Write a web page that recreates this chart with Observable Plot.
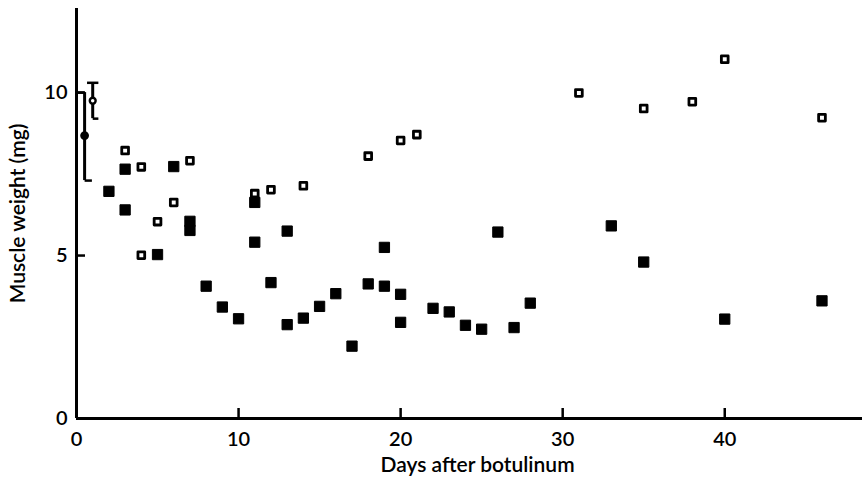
<!DOCTYPE html>
<html>
<head>
<meta charset="utf-8">
<script src="https://cdn.jsdelivr.net/npm/d3@7"></script>
<script src="https://cdn.jsdelivr.net/npm/@observablehq/plot@0.6"></script>
<style>
  html, body { margin: 0; padding: 0; background: #fff; }
  svg { display: block; }
</style>
</head>
<body>
<div id="chart"></div>
<script>
// Open squares (one series)
const openDays   = [3, 4, 4, 5, 6, 7, 11, 12, 14, 18, 20, 21, 31, 35, 38, 40, 46];
const openWeight = [8.22, 7.72, 5.01, 6.04, 6.63, 7.91, 6.9, 7.02, 7.14, 8.05, 8.53, 8.71, 9.99, 9.51, 9.72, 11.02, 9.23];

// Filled squares (other series)
const filledDays   = [2, 3, 3, 5, 6, 7, 7, 8, 9, 10, 11, 11, 12, 13, 13, 14, 15, 16, 17, 18, 19, 19, 20, 20, 22, 23, 24, 25, 26, 27, 28, 33, 35, 40, 46];
const filledWeight = [6.97, 7.65, 6.4, 5.03, 7.73, 6.05, 5.77, 4.06, 3.42, 3.06, 6.63, 5.41, 4.17, 5.75, 2.88, 3.08, 3.44, 3.83, 2.22, 4.13, 5.25, 4.06, 3.81, 2.95, 3.38, 3.27, 2.86, 2.74, 5.72, 2.79, 3.54, 5.91, 4.8, 3.05, 3.61];

// Control means with error bars (filled circle and open circle)
const controlDay  = [0.5, 1.0];
const controlMean = [8.68, 9.75];
const controlLow  = [7.3, 9.2];
const controlHigh = [10.0, 10.3];
const controlFill = ["black", "white"];

// Tick values
const xTicks = [0, 10, 20, 30, 40];
const xTickMarks = [10, 20, 30, 40];
const yTicks = [0, 5, 10];
const yTickMarks = [5, 10];

const openData = openDays.map((d, i) => ({day: d, w: openWeight[i]}));
const filledData = filledDays.map((d, i) => ({day: d, w: filledWeight[i]}));
const ctrl = controlDay.map((d, i) => ({i, day: d, mean: controlMean[i], lo: controlLow[i], hi: controlHigh[i], fill: controlFill[i]}));

const font = "Lato, 'Open Sans', sans-serif";

const chart = Plot.plot({
  width: 862,
  height: 478,
  marginLeft: 76,
  marginRight: 0,
  marginTop: 8,
  marginBottom: 60,
  style: {fontFamily: font, fontSize: "20px", color: "black", background: "white"},
  x: {domain: [0, 48.5]},
  y: {domain: [0, 12.58]},
  marks: [
    // inward tick marks
    Plot.axisX(xTickMarks, {tickSize: -10, text: null, label: null, strokeWidth: 2.5}),
    Plot.axisY(yTickMarks, {tickSize: -9, text: null, label: null, strokeWidth: 2.5}),
    // tick labels
    Plot.axisX(xTicks, {tickSize: 0, tickPadding: 13, fontSize: 20, fontWeight: 600, label: null}),
    Plot.axisY(yTicks, {tickSize: 0, tickPadding: 9, fontSize: 20, fontWeight: 600, label: null}),
    // axis lines
    Plot.ruleY([0], {stroke: "black", strokeWidth: 3}),
    Plot.ruleX([0], {stroke: "black", strokeWidth: 3}),
    // error bars
    Plot.ruleX(ctrl, {x: "day", y1: "lo", y2: "hi", stroke: "black", strokeWidth: 3}),
    Plot.link(ctrl, {x1: "day", x2: d => d.day + (d.i === 0 ? 0.45 : 0.35), y1: "lo", y2: "lo", stroke: "black", strokeWidth: 2.5}),
    Plot.link(ctrl, {x1: d => d.day - (d.i === 0 ? 0.5 : 0.35), x2: d => d.day + (d.i === 0 ? 0 : 0.35), y1: "hi", y2: "hi", stroke: "black", strokeWidth: 2.5}),
    Plot.dot(ctrl, {x: "day", y: "mean", r: d => d.i === 0 ? 5 : 4.2, fill: "fill", stroke: "black", strokeWidth: 2.4}),
    // data
    Plot.dot(filledData, {x: "day", y: "w", symbol: "square", r: 5.8, fill: "black", stroke: "black", strokeWidth: 1, strokeLinejoin: "round"}),
    Plot.dot(openData, {x: "day", y: "w", symbol: "square", r: 3.8, fill: "white", stroke: "black", strokeWidth: 2.8, strokeLinejoin: "round"}),
    // axis titles
    Plot.text(["Days after botulinum"], {frameAnchor: "bottom", dy: 53, dx: 8, fontSize: 21, fontWeight: 600}),
    Plot.text(["Muscle weight (mg)"], {frameAnchor: "left", textAnchor: "middle", dx: -58, rotate: -90, fontSize: 21, fontWeight: 600})
  ]
});

document.getElementById("chart").appendChild(chart);
</script>
</body>
</html>
